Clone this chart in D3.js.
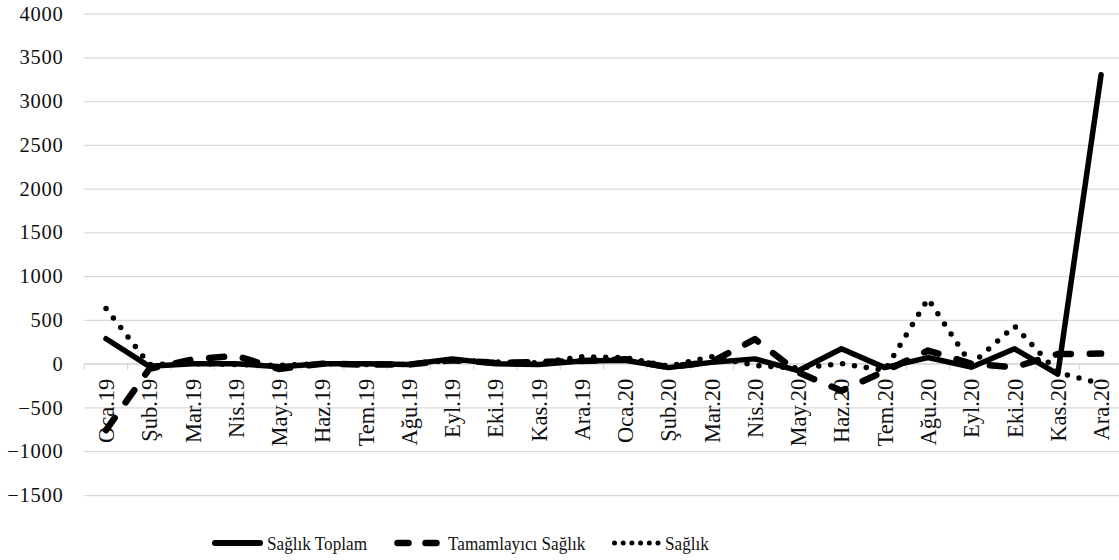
<!DOCTYPE html>
<meta charset="utf-8">
<script src="https://cdn.jsdelivr.net/npm/d3@7"></script>
<style>
body { margin: 0; background: #fff; }
svg text { font-family: "Liberation Serif", "Times New Roman", serif; fill: #111; }
.grid line { stroke: #d9d9d9; stroke-width: 1.25px; }
path.series { fill: none; stroke: #000; stroke-linejoin: round; }
</style>
<body>
<script>

// months on the x axis
var months = ["Oca.19","Şub.19","Mar.19","Nis.19","May.19","Haz.19","Tem.19","Ağu.19",
  "Eyl.19","Eki.19","Kas.19","Ara.19","Oca.20","Şub.20","Mar.20","Nis.20",
  "May.20","Haz.20","Tem.20","Ağu.20","Eyl.20","Eki.20","Kas.20","Ara.20"];

var saglikToplam = [285, -30, 0, 0, -35, 0, 0, -10, 55, 0, -10, 30,
  40, -45, 15, 55, -80, 170, -45, 70, -40, 170, -120, 3300];

var tamamlayiciSaglik = [-760, -60, 50, 90, -60, 0, -10, -10, 40, 10, 20, 30,
  50, -40, 20, 280, -100, -310, -85, 150, 0, -40, 110, 115];

var saglik = [630, -10, 0, -10, -20, 0, -10, -10, 40, 20, 10, 80,
  70, -30, 80, -20, -50, 0, -75, 740, -10, 430, -100, -230];

var yTicks = [-1500, -1000, -500, 0, 500, 1000, 1500, 2000, 2500, 3000, 3500, 4000];

var width = 1119, height = 560;
var serif = '"Liberation Serif", "Times New Roman", serif';

var svg = d3.select("body").append("svg")
    .attr("width", width)
    .attr("height", height)
    .attr("font-family", serif);

var x = d3.scaleBand()
    .domain(months)
    .range([84.4, 1122.7]);

var y = d3.scaleLinear()
    .domain([-1500, 4000])
    .range([495, 13.5]);

// horizontal gridlines + y labels
var yAxis = d3.axisLeft(y)
    .tickValues(yTicks)
    .tickSize(-(1122.7 - 84.4))
    .tickPadding(21)
    .tickFormat(d3.format("d"));

var gy = svg.append("g")
    .attr("class", "grid")
    .attr("transform", "translate(84.4,0)")
    .call(yAxis)
    .attr("font-family", serif)
    .attr("font-size", 20);
gy.select(".domain").remove();
gy.selectAll("text")
    .style("font-size", "20.5px")
    .style("letter-spacing", "0.7px")
    .attr("fill", "#111");

// zero axis with tick marks between months
var y0 = y(0);
svg.append("line")
    .attr("x1", 84.4).attr("x2", 1122.7)
    .attr("y1", y0).attr("y2", y0)
    .attr("stroke", "#d9d9d9").attr("stroke-width", 1.25);

svg.append("g").selectAll("line")
    .data(months)
    .enter().append("line")
    .attr("x1", function(d) { return x(d); })
    .attr("x2", function(d) { return x(d); })
    .attr("y1", y0).attr("y2", y0 + 6)
    .attr("stroke", "#d9d9d9").attr("stroke-width", 1.25);

// rotated month labels
svg.append("g").selectAll("text")
    .data(months)
    .enter().append("text")
    .attr("transform", function(d) {
      return "translate(" + (x(d) + x.bandwidth() / 2 + 8) + "," + (y0 + 15) + ") rotate(-90)";
    })
    .attr("text-anchor", "end")
    .style("font-size", "22.5px")
    .text(function(d) { return d; });

// the three series
var line = d3.line()
    .x(function(d, i) { return x(months[i]) + x.bandwidth() / 2; })
    .y(function(d) { return y(d); });

var series = [
  {name: "Sağlık Toplam", values: saglikToplam, w: 5.5, dash: null},
  {name: "Tamamlayıcı Sağlık", values: tamamlayiciSaglik, w: 6.5, dash: "15,19"},
  {name: "Sağlık", values: saglik, w: 5.5, dash: "0,12"}
];

svg.append("g").selectAll("path")
    .data(series)
    .enter().append("path")
    .attr("class", "series")
    .attr("d", function(d) { return line(d.values); })
    .attr("stroke-width", function(d) { return d.w; })
    .attr("stroke-dasharray", function(d) { return d.dash; })
    .attr("stroke-linecap", "round");

// legend
var legY = 543;
var legend = [
  {x1: 215, x2: 260, tx: 267, w: 6, dash: null},
  {x1: 397.5, x2: 436.5, tx: 448, w: 6.5, dash: "11,17"},
  {x1: 614.5, x2: 658, tx: 665, w: 5, dash: "0,8.7"}
];

var lg = svg.append("g").selectAll("g")
    .data(legend)
    .enter().append("g");

lg.append("line")
    .attr("x1", function(d) { return d.x1; })
    .attr("x2", function(d) { return d.x2; })
    .attr("y1", legY).attr("y2", legY)
    .attr("stroke", "#000")
    .attr("stroke-width", function(d) { return d.w; })
    .attr("stroke-dasharray", function(d) { return d.dash; })
    .attr("stroke-linecap", "round");

lg.append("text")
    .attr("transform", function(d) { return "translate(" + d.tx + "," + (legY + 7) + ") scale(0.88,1)"; })
    .style("font-size", "19.5px")
    .text(function(d, i) { return series[i].name; });

</script>
</body>
